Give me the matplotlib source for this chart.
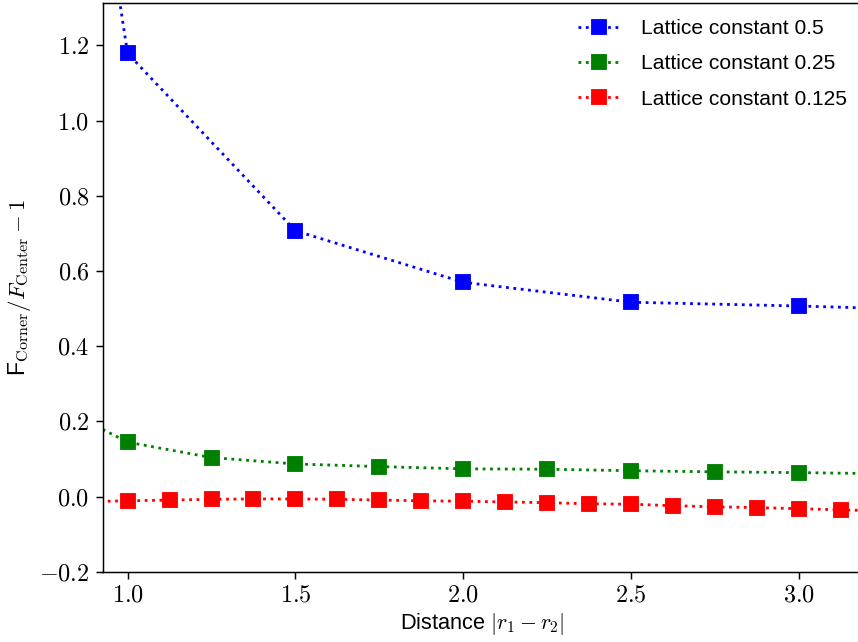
import matplotlib
matplotlib.use('Agg')
import matplotlib.pyplot as plt
from matplotlib.ticker import FuncFormatter

plt.rcParams['font.family'] = ['Liberation Sans', 'DejaVu Sans']
plt.rcParams['mathtext.fontset'] = 'cm'
plt.rcParams['font.size'] = 11.7

# lattice constant 0.5
x_05 = [0.5, 1.0, 1.5, 2.0, 2.5, 3.0, 3.5]
y_05 = [4.1, 1.179, 0.707, 0.570, 0.517, 0.507, 0.494]

# lattice constant 0.25
x_025 = [0.75, 1.0, 1.25, 1.5, 1.75, 2.0, 2.25, 2.5, 2.75, 3.0, 3.25]
y_025 = [0.26, 0.145, 0.104, 0.087, 0.080, 0.074, 0.073, 0.069, 0.066, 0.064, 0.061]

# lattice constant 0.125
x_0125 = [0.875, 1.0, 1.125, 1.25, 1.375, 1.5, 1.625, 1.75, 1.875, 2.0,
          2.125, 2.25, 2.375, 2.5, 2.625, 2.75, 2.875, 3.0, 3.125, 3.25]
y_0125 = [-0.013, -0.011, -0.009, -0.007, -0.006, -0.006, -0.007, -0.009, -0.011, -0.012,
          -0.014, -0.016, -0.019, -0.020, -0.024, -0.027, -0.029, -0.032, -0.035, -0.038]

labels = ['Lattice constant 0.5', 'Lattice constant 0.25', 'Lattice constant 0.125']

fig = plt.figure(figsize=(858 / 134, 642 / 134), dpi=134)
ax = fig.add_axes([0.1195, 0.1092, 0.886, 0.8857])

ax.plot(x_05, y_05, 'b:s', lw=1.5, ms=7.5, label=labels[0])
ax.plot(x_025, y_025, 'g:s', lw=1.5, ms=7.5, label=labels[1])
ax.plot(x_0125, y_0125, 'r:s', lw=1.5, ms=7.5, label=labels[2])

ax.set_xlim(0.9255, 3.189)
ax.set_ylim(-0.2, 1.312)
ax.set_xticks([1.0, 1.5, 2.0, 2.5, 3.0])
ax.set_yticks([-0.2, 0.0, 0.2, 0.4, 0.6, 0.8, 1.0, 1.2])
fmt = FuncFormatter(lambda v, p: r'$%.1f$' % v)
ax.xaxis.set_major_formatter(fmt)
ax.yaxis.set_major_formatter(fmt)
ax.tick_params(labelsize=13)

ax.set_xlabel(r'Distance $|r_1 - r_2|$', labelpad=2)
ax.set_ylabel(r'F$_{\rm Corner}/F_{\rm Center} - 1$', fontsize=12.3, labelpad=3)
ax.legend(loc='upper right', frameon=False, fontsize=11.3,
          borderaxespad=0.35, labelspacing=0.78, handletextpad=1.0)

fig.savefig('out.png', dpi=134)
